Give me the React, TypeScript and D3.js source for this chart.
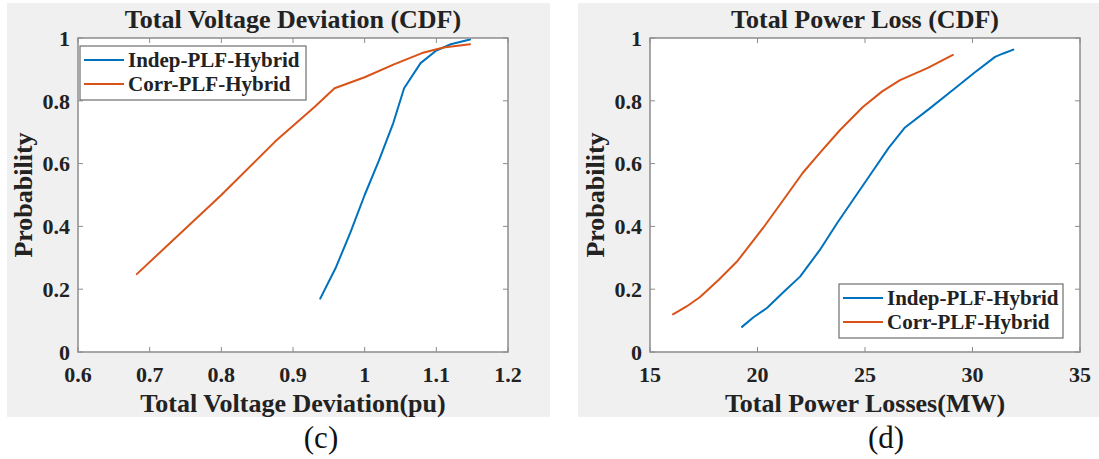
import React from "react";
import * as d3 from "d3";

// Series names shared by both panels
const seriesNames = ["Indep-PLF-Hybrid", "Corr-PLF-Hybrid"];
const seriesColors = ["#0072BD", "#D95319"];

// Panel (c): total voltage deviation CDF
const voltIndepX = [0.938, 0.96, 0.98, 1.0, 1.02, 1.04, 1.055, 1.078, 1.1, 1.12, 1.147];
const voltIndepP = [0.17, 0.27, 0.38, 0.5, 0.61, 0.73, 0.84, 0.92, 0.96, 0.98, 0.995];
const voltCorrX = [0.682, 0.8, 0.875, 0.93, 0.958, 1.0, 1.04, 1.08, 1.11, 1.147];
const voltCorrP = [0.248, 0.5, 0.67, 0.78, 0.84, 0.875, 0.915, 0.952, 0.97, 0.98];
const voltXTicks = [0.6, 0.7, 0.8, 0.9, 1, 1.1, 1.2];
const voltXTickLabels = ["0.6", "0.7", "0.8", "0.9", "1", "1.1", "1.2"];

// Panel (d): total power loss CDF
const lossIndepX = [19.28, 19.8, 20.44, 21.2, 21.98, 22.9, 23.7, 24.44, 25.3, 26.1, 26.86, 28, 29.1, 30.1, 31.05, 31.4, 31.9];
const lossIndepP = [0.08, 0.11, 0.14, 0.19, 0.24, 0.325, 0.41, 0.484, 0.57, 0.65, 0.715, 0.775, 0.835, 0.89, 0.94, 0.95, 0.963];
const lossCorrX = [16.07, 16.7, 17.33, 18.2, 19.07, 20.26, 21.2, 22.1, 22.9, 23.84, 24.9, 25.8, 26.63, 27.9, 29.09];
const lossCorrP = [0.12, 0.145, 0.175, 0.23, 0.29, 0.395, 0.484, 0.57, 0.634, 0.707, 0.78, 0.83, 0.866, 0.904, 0.946];
const lossXTicks = [15, 20, 25, 30, 35];
const lossXTickLabels = ["15", "20", "25", "30", "35"];

// Shared probability axis
const yTicks = [0, 0.2, 0.4, 0.6, 0.8, 1];
const yTickLabels = ["0", "0.2", "0.4", "0.6", "0.8", "1"];

const FONT = "Liberation Serif";
const AXIS_COLOR = "#8c8c8c";
const TEXT_COLOR = "#222";

type PanelProps = {
  bgX0: number;
  bgX1: number;
  left: number;
  right: number;
  domain: [number, number];
  xTicks: number[];
  xTickLabels: string[];
  series: { x: number[]; p: number[] }[];
  title: string;
  xLabel: string;
  caption: string;
  captionX: number;
  legend: { x: number; y: number; w: number };
};

function txt(size: number, weight = 700): React.CSSProperties {
  return { fontFamily: FONT, fontWeight: weight, fontSize: size };
}

function Panel(props: PanelProps) {
  const top = 38;
  const bottom = 352;
  const { left, right } = props;
  const x = d3.scaleLinear().domain(props.domain).range([left, right]);
  const y = d3.scaleLinear().domain([0, 1]).range([bottom, top]);
  const line = d3
    .line<[number, number]>()
    .x((d) => x(d[0]))
    .y((d) => y(d[1]));
  const tickLen = 5;
  const cx = (left + right) / 2;
  const lg = props.legend;
  const lgH = 54;

  return (
    <g>
      <rect x={props.bgX0} y={3} width={props.bgX1 - props.bgX0} height={414} fill="#f0f0f0" />
      <rect x={left} y={top} width={right - left} height={bottom - top} fill="#fff" />

      {props.series.map((s, i) => (
        <path
          key={i}
          d={line(s.x.map((v, k) => [v, s.p[k]] as [number, number])) || ""}
          fill="none"
          stroke={seriesColors[i]}
          strokeWidth={2}
          strokeLinejoin="round"
          strokeLinecap="round"
        />
      ))}

      {/* box and inward ticks */}
      <rect x={left} y={top} width={right - left} height={bottom - top} fill="none" stroke={AXIS_COLOR} strokeWidth={1.5} />
      {props.xTicks.map((t, i) => (
        <g key={"xt" + i}>
          <line x1={x(t)} x2={x(t)} y1={bottom} y2={bottom - tickLen} stroke={AXIS_COLOR} />
          <line x1={x(t)} x2={x(t)} y1={top} y2={top + tickLen} stroke={AXIS_COLOR} />
          <text x={x(t)} y={382} textAnchor="middle" style={txt(22)} fill={TEXT_COLOR}>
            {props.xTickLabels[i]}
          </text>
        </g>
      ))}
      {yTicks.map((t, i) => (
        <g key={"yt" + i}>
          <line x1={left} x2={left + tickLen} y1={y(t)} y2={y(t)} stroke={AXIS_COLOR} />
          <line x1={right} x2={right - tickLen} y1={y(t)} y2={y(t)} stroke={AXIS_COLOR} />
          <text x={left - 8} y={y(t)} dy="0.35em" textAnchor="end" style={txt(22)} fill={TEXT_COLOR}>
            {yTickLabels[i]}
          </text>
        </g>
      ))}

      <text x={cx} y={28} textAnchor="middle" style={txt(26)} fill={TEXT_COLOR}>
        {props.title}
      </text>
      <text x={cx} y={412} textAnchor="middle" style={txt(26)} fill={TEXT_COLOR}>
        {props.xLabel}
      </text>
      <text
        transform={`translate(${left - 46},${(top + bottom) / 2}) rotate(-90)`}
        textAnchor="middle"
        style={txt(26)}
        fill={TEXT_COLOR}
      >
        Probability
      </text>
      <text x={props.captionX} y={448} textAnchor="middle" style={txt(31, 400)} fill="#111">
        {props.caption}
      </text>

      {/* legend */}
      <rect x={lg.x} y={lg.y} width={lg.w} height={lgH} fill="#fff" stroke="#6e6e6e" strokeWidth={1.2} />
      {seriesNames.map((name, i) => {
        const ry = lg.y + 14 + i * 24;
        return (
          <g key={"lg" + i}>
            <line x1={lg.x + 4} x2={lg.x + 44} y1={ry} y2={ry} stroke={seriesColors[i]} strokeWidth={2} />
            <text x={lg.x + 48} y={ry} dy="0.35em" style={txt(21)} fill={TEXT_COLOR}>
              {name}
            </text>
          </g>
        );
      })}
    </g>
  );
}

export default function App() {
  return (
    <svg width={1099} height={459} style={{ position: "absolute", left: 0, top: 0, background: "#fff" }}>
      <Panel
        bgX0={7}
        bgX1={550}
        left={78}
        right={508}
        domain={[0.6, 1.2]}
        xTicks={voltXTicks}
        xTickLabels={voltXTickLabels}
        series={[
          { x: voltIndepX, p: voltIndepP },
          { x: voltCorrX, p: voltCorrP },
        ]}
        title="Total Voltage Deviation (CDF)"
        xLabel="Total Voltage Deviation(pu)"
        caption="(c)"
        captionX={321}
        legend={{ x: 80, y: 46, w: 226 }}
      />
      <Panel
        bgX0={578}
        bgX1={1099}
        left={650}
        right={1080}
        domain={[15, 35]}
        xTicks={lossXTicks}
        xTickLabels={lossXTickLabels}
        series={[
          { x: lossIndepX, p: lossIndepP },
          { x: lossCorrX, p: lossCorrP },
        ]}
        title="Total Power Loss (CDF)"
        xLabel="Total Power Losses(MW)"
        caption="(d)"
        captionX={886}
        legend={{ x: 839, y: 284, w: 224 }}
      />
    </svg>
  );
}
